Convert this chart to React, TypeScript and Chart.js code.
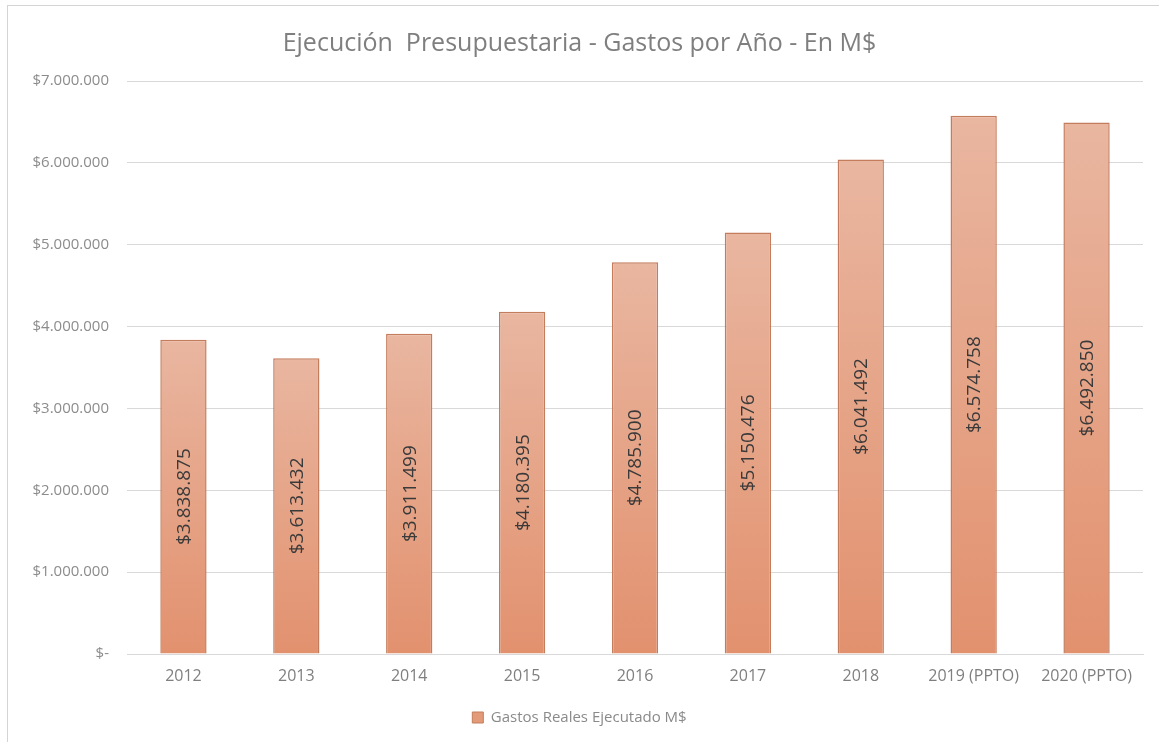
import React, { useEffect, useRef } from "react";
import { Chart, registerables } from "chart.js";

Chart.register(...registerables);

const categories = ["2012", "2013", "2014", "2015", "2016", "2017", "2018", "2019 (PPTO)", "2020 (PPTO)"];
const gastos = [3838875, 3613432, 3911499, 4180395, 4785900, 5150476, 6041492, 6574758, 6492850];
const yTicks = [0, 1000000, 2000000, 3000000, 4000000, 5000000, 6000000, 7000000];
const seriesName = "Gastos Reales Ejecutado M$";
const chartTitle = "Ejecución  Presupuestaria - Gastos por Año - En M$";

const FONT = "'Open Sans', 'Noto Sans', sans-serif";

function fmt(v: number): string {
  if (v === 0) return "$-";
  const s = Math.round(v).toString().replace(/\B(?=(\d{3})+(?!\d))/g, ".");
  return "$" + s;
}

const barLabelPlugin = {
  id: "barLabels",
  afterDatasetsDraw(chart: any) {
    const ctx = chart.ctx;
    const meta = chart.getDatasetMeta(0);
    ctx.save();
    ctx.font = `19px ${FONT}`;
    ctx.fillStyle = "#3a3a3a";
    ctx.textAlign = "center";
    ctx.textBaseline = "middle";
    meta.data.forEach((bar: any, i: number) => {
      const cx = bar.x;
      const cy = (bar.y + bar.base) / 2;
      ctx.save();
      ctx.translate(cx, cy);
      ctx.rotate(-Math.PI / 2);
      ctx.fillText(fmt(gastos[i]), 0, 1);
      ctx.restore();
    });
    ctx.restore();
  },
};

export default function App() {
  const ref = useRef<HTMLCanvasElement | null>(null);
  useEffect(() => {
    if (!ref.current) return;
    const chart = new Chart(ref.current, {
      type: "bar",
      data: {
        labels: categories,
        datasets: [
          {
            label: seriesName,
            data: gastos,
            backgroundColor: (c: any) => {
              const ch = c.chart;
              const area = ch.chartArea;
              if (!area || c.raw === undefined) return "#e5a082";
              const yTop = ch.scales.y.getPixelForValue(c.raw);
              const yBot = ch.scales.y.getPixelForValue(0);
              const g = ch.ctx.createLinearGradient(0, yTop, 0, yBot);
              g.addColorStop(0, "#e9b6a0");
              g.addColorStop(1, "#e2916e");
              return g;
            },
            borderColor: "#c47d5c",
            borderWidth: 1.5,
            categoryPercentage: 1,
            barPercentage: 0.41,
          },
        ],
      },
      options: {
        responsive: false,
        animation: false,
        layout: { padding: { left: 16, right: 16, top: 0, bottom: 7 } },
        plugins: {
          title: {
            display: true,
            text: chartTitle,
            color: "#7f7f7f",
            font: { family: FONT, size: 25, weight: "normal" },
            padding: { top: 29, bottom: 22 },
          },
          legend: {
            display: true,
            position: "bottom",
            labels: {
              color: "#8a8a8a",
              font: { family: FONT, size: 15 },
              boxWidth: 11,
              boxHeight: 11,
              padding: 10,
              generateLabels: () => [
                {
                  text: seriesName,
                  fillStyle: "#e39a79",
                  strokeStyle: "#c47d5c",
                  lineWidth: 1,
                  hidden: false,
                  datasetIndex: 0,
                  fontColor: "#8a8a8a",
                },
              ],
            },
          },
          tooltip: { enabled: false },
        },
        scales: {
          x: {
            grid: { display: false, drawTicks: false },
            border: { display: true, color: "#d9d9d9" },
            ticks: { color: "#7f7f7f", font: { family: FONT, size: 16 }, padding: 13, maxRotation: 0, autoSkip: false },
            afterFit: (s: any) => { s.height = 46; },
          },
          y: {
            min: 0,
            max: 7000000,
            grid: { color: "#d9d9d9", lineWidth: 1, drawTicks: false },
            border: { display: false },
            afterBuildTicks: (s: any) => { s.ticks = yTicks.map((v) => ({ value: v })); },
            ticks: {
              color: "#8c8c8c",
              font: { family: FONT, size: 15 },
              padding: 18,
              callback: (v: any) => fmt(Number(v)),
            },
            afterFit: (s: any) => { s.width = 111; },
          },
        },
      },
      plugins: [barLabelPlugin],
    });
    return () => chart.destroy();
  }, []);

  return (
    <div style={{ position: "fixed", left: 0, top: 0, width: 1159, height: 742, background: "#ffffff", overflow: "hidden" }}>
      <div style={{ position: "absolute", left: 7, top: 5, width: 1200, height: 800, borderLeft: "1px solid #d4d4d4", borderTop: "1px solid #d4d4d4" }} />
      <canvas ref={ref} width={1159} height={742} style={{ position: "absolute", left: 0, top: 0, display: "block" }} />
    </div>
  );
}
